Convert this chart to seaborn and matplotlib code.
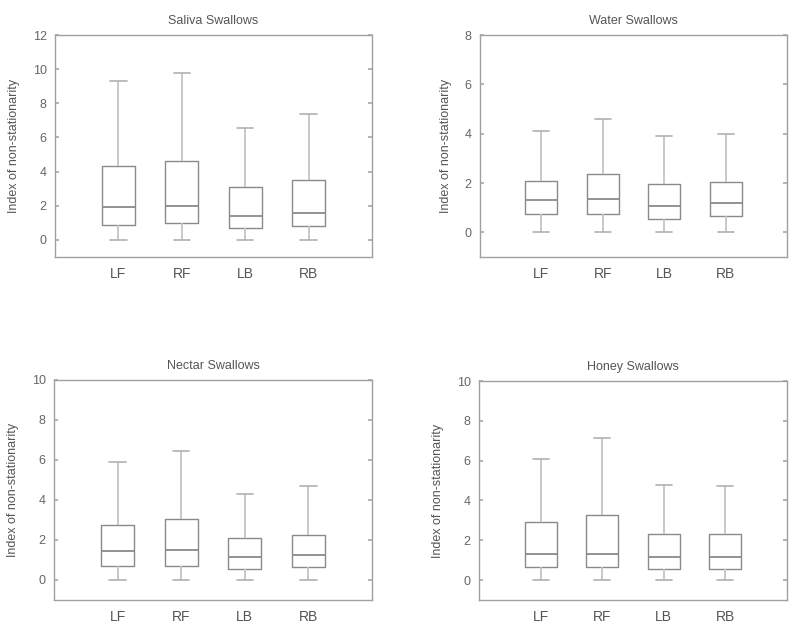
import matplotlib

matplotlib.use("Agg")

import matplotlib.pyplot as plt
import pandas as pd
import seaborn as sns

# five-number summaries per limb: min, q1, median, q3, max
LIMBS = ["LF", "RF", "LB", "RB"]
TITLES = ["Saliva Swallows", "Water Swallows", "Nectar Swallows", "Honey Swallows"]

saliva = {
    "LF": [0.0, 0.9, 1.95, 4.3, 9.3],
    "RF": [0.0, 1.0, 2.0, 4.6, 9.75],
    "LB": [0.0, 0.7, 1.4, 3.1, 6.55],
    "RB": [0.0, 0.8, 1.6, 3.5, 7.4],
}
water = {
    "LF": [0.0, 0.75, 1.3, 2.1, 4.1],
    "RF": [0.0, 0.75, 1.35, 2.35, 4.6],
    "LB": [0.0, 0.55, 1.05, 1.95, 3.9],
    "RB": [0.0, 0.65, 1.2, 2.05, 4.0],
}
nectar = {
    "LF": [0.0, 0.7, 1.45, 2.75, 5.9],
    "RF": [0.0, 0.7, 1.5, 3.05, 6.45],
    "LB": [0.0, 0.55, 1.15, 2.1, 4.3],
    "RB": [0.0, 0.65, 1.25, 2.25, 4.7],
}
honey = {
    "LF": [0.0, 0.65, 1.3, 2.9, 6.1],
    "RF": [0.0, 0.65, 1.3, 3.25, 7.15],
    "LB": [0.0, 0.55, 1.15, 2.3, 4.8],
    "RB": [0.0, 0.55, 1.15, 2.3, 4.75],
}
DATASETS = [saliva, water, nectar, honey]
YLIMS = [(-1, 12), (-1, 8), (-1, 10), (-1, 10)]
YTICKS = [range(0, 13, 2), range(0, 9, 2), range(0, 11, 2), range(0, 11, 2)]

AX_RECTS = [
    [55 / 800, 1 - 257 / 630, 317 / 800, 222 / 630],
    [480 / 800, 1 - 257 / 630, 307 / 800, 222 / 630],
    [54 / 800, 1 - 600 / 630, 318 / 800, 220 / 630],
    [479 / 800, 1 - 600 / 630, 308 / 800, 219 / 630],
]

sns.set_theme(style="white")
plt.rcParams["font.family"] = ["Liberation Sans", "DejaVu Sans"]

fig = plt.figure(figsize=(8, 6.3), dpi=100)

for data, title, ylim, yticks, rect in zip(DATASETS, TITLES, YLIMS, YTICKS, AX_RECTS):
    ax = fig.add_axes(rect)
    df = pd.DataFrame(
        [(limb, v) for limb in LIMBS for v in data[limb]], columns=["limb", "value"]
    )
    sns.boxplot(
        data=df, x="limb", y="value", order=LIMBS, ax=ax,
        whis=(0, 100), width=0.52, fill=False, color="#8a8a8a",
        linewidth=1.0,
        boxprops={"color": "#8a8a8a"},
        medianprops={"color": "#8a8a8a", "linewidth": 1.3},
        whiskerprops={"color": "#c4c4c4", "linewidth": 1.3},
        capprops={"color": "#b0b0b0", "linewidth": 1.2},
    )
    ax.set_xlim(-1, 4)
    ax.set_ylim(*ylim)
    ax.set_yticks(list(yticks))
    ax.set_title(title, fontsize=9, color="#555555", pad=8)
    ax.set_xlabel("")
    ax.set_ylabel("Index of non-stationarity", fontsize=9, color="#555555", labelpad=9)
    ax.tick_params(axis="y", direction="in", left=True, right=True, length=3,
                   color="#aaaaaa", labelsize=9, labelcolor="#666666", pad=6)
    ax.tick_params(axis="x", length=0, labelsize=10, labelcolor="#555555", pad=7)
    for spine in ax.spines.values():
        spine.set_color("#a0a0a0")
        spine.set_linewidth(1.0)

fig.savefig("out.png", dpi=100, facecolor="white")
